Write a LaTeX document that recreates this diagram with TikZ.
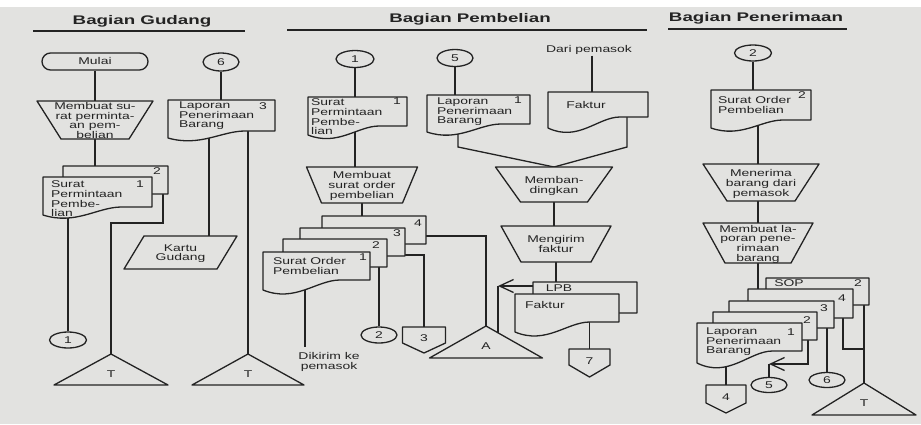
\documentclass[tikz,border=0pt]{standalone}
\usepackage{fontspec}
\setmainfont{Liberation Sans}
\usetikzlibrary{shapes.misc,shapes.geometric,arrows.meta,calc}

\definecolor{paper}{RGB}{226,226,224}
\definecolor{ink}{RGB}{35,35,35}

\pgfdeclarelayer{paper}
\pgfdeclarelayer{wires}
\pgfsetlayers{paper,wires,main}

% text helpers: body text is set wide
\newcommand\bodyfont{\fontsize{9.8}{9}\selectfont}
\newcommand\sx[1]{\scalebox{1.42}[1]{\begin{tabular}{@{}c@{}}#1\end{tabular}}}
\newcommand\sxl[1]{\scalebox{1.42}[1]{\begin{tabular}[t]{@{}l@{}}#1\end{tabular}}}
\newcommand\hx[1]{\scalebox{1.5}[1]{#1}}

\tikzset{
  geo/.style={inner sep=0pt, outer sep=0pt, draw=none},
  shp/.style={draw=ink, fill=paper, line width=1.3pt, line join=round},
  txt/.style={inner sep=0pt, text=ink, font=\bodyfont},
  num/.style={txt, yshift=-1.5pt},
  lbl/.style={txt, anchor=base west},
  hdr/.style={inner sep=0pt, text=ink, font=\fontsize{12.5}{14}\selectfont\bfseries,
              text height=9pt, text depth=0pt},
  wire/.style={draw=ink, line width=1.3pt},
  arr/.style={wire, -{Straight Barb[length=14pt,width=13pt]}},
  rule/.style={draw=ink, line width=1.5pt},
  ellip/.style={ellipse, draw=ink, fill=paper, line width=1.3pt, inner sep=0pt,
                text=ink, font=\bodyfont, text height=7pt, text depth=0pt},
  term/.style={rounded rectangle, draw=ink, fill=paper, line width=1.3pt, inner sep=0pt,
               text=ink, font=\bodyfont, text height=7pt, text depth=0pt},
}

% manual operation: name, cx, cy, top width, height, slant, text
\newcommand\fcManop[7]{%
  \node[geo, minimum width=#4pt, minimum height=#5pt] (#1) at (#2,#3) {};
  \draw[shp] (#1.north west) -- (#1.north east) -- ([xshift=-#6pt]#1.south east)
             -- ([xshift=#6pt]#1.south west) -- cycle;
  \node[num] (#1-t) at (#1.center) {\sx{#7}};}

% document: name, left x, top y, width, left height, rise of right side
\newcommand\fcDoc[6]{%
  \draw[shp] (#2,#3) -- ({#2+#4},#3) -- ({#2+#4},{#3+#5-#6})
     -- ({#2+0.72*#4},{#3+#5-#6})
     .. controls ({#2+0.5*#4},{#3+#5-#6}) and ({#2+0.3*#4},{#3+#5+1.3*#6})
     .. (#2,{#3+#5}) -- cycle;
  \node[geo, anchor=north west, minimum width=#4pt, minimum height=#5pt] (#1) at (#2,#3) {};}

% off-page connector: name, cx, top y, width, height, tip depth, text
\newcommand\fcOff[7]{%
  \node[geo, anchor=north, minimum width=#4pt, minimum height=#5pt] (#1) at (#2,#3) {};
  \draw[shp] (#1.north west) -- (#1.north east) -- ([yshift=#6pt]#1.south east)
             -- (#1.south) -- ([yshift=#6pt]#1.south west) -- cycle;
  \node[num] (#1-t) at ($(#1.north)!0.42!(#1.south)$) {\sx{#7}};}

% file (triangle): name, apex x, apex y, base width, height, text
\newcommand\fcTri[6]{%
  \node[geo, anchor=north, minimum width=#4pt, minimum height=#5pt] (#1) at (#2,#3) {};
  \draw[shp] (#1.north) -- (#1.south east) -- (#1.south west) -- cycle;
  \node[num] (#1-t) at ($(#1.north)!0.63!(#1.south)$) {\sx{#6}};}

% manual input record (parallelogram): name, cx, cy, width, height, slant, text
\newcommand\fcPara[7]{%
  \node[geo, minimum width=#4pt, minimum height=#5pt] (#1) at (#2,#3) {};
  \draw[shp] ([xshift=#6pt]#1.north west) -- (#1.north east) -- ([xshift=-#6pt]#1.south east)
             -- (#1.south west) -- cycle;
  \node[num] (#1-t) at (#1.center) {\sx{#7}};}

\begin{document}
\begin{tikzpicture}[x=1pt,y=-1pt]
\useasboundingbox (0,0) rectangle (921,424);
\begin{pgfonlayer}{paper}
  \fill[paper] (0,0) rectangle (921,424);
  \fill[white] (0,0) rectangle (921,7);
\end{pgfonlayer}

% ---------- column headers ----------
\node[hdr] (h1) at (142,20) {\hx{Bagian Gudang}};
\node[hdr] (h2) at (470,18) {\hx{Bagian Pembelian}};
\node[hdr] (h3) at (756,17) {\hx{Bagian Penerimaan}};
\draw[rule] (33,31) -- (245,31);
\draw[rule] (287,30) -- (647,30);
\draw[rule] (668,29) -- (847,29);

% ---------- Bagian Gudang ----------
\node[term, minimum width=106pt, minimum height=17pt] (mulai) at (95,61.5) {\sx{Mulai}};
\fcManop{gop}{95}{120}{116}{38}{24}{Membuat su-\\rat perminta-\\an pem-\\belian}
\fcDoc{gd2}{63}{166}{105}{36}{8}
\node[num] (gd2-n) at (157,171) {\sx{2}};
\fcDoc{gd1}{43}{177}{109}{38}{8}
\node[num] (gd1-n) at (140,184) {\sx{1}};
\node[lbl] (gd1-t) at (51,187.4) {\sxl{Surat\\Permintaan\\Pembe-\\lian}};
\node[ellip, minimum width=37pt, minimum height=16pt] (gc1) at (68,340) {\sx{1}};
\fcTri{gt1}{111}{354}{114}{31}{T}

\node[ellip, minimum width=36pt, minimum height=18pt] (gc6) at (221,62) {\sx{6}};
\fcDoc{gl3}{168}{100}{107}{38}{7}
\node[num] (gl3-n) at (263,106) {\sx{3}};
\node[lbl] (gl3-t) at (179,108.5) {\sxl{Laporan\\Penerimaan\\Barang}};
\fcPara{kartu}{180.5}{252.5}{113}{33}{20}{Kartu\\Gudang}
\fcTri{gt2}{248}{354}{112}{31}{T}

% ---------- Bagian Pembelian ----------
\node[ellip, minimum width=38pt, minimum height=17pt] (pc1) at (355,59) {\sx{1}};
\fcDoc{pd}{308}{97}{99}{38}{9}
\node[num] (pd-n) at (397,101) {\sx{1}};
\node[lbl] (pd-t) at (311,105.5) {\sxl{Surat\\Permintaan\\Pembe-\\lian}};
\fcManop{pop}{362}{185}{111}{36}{15}{Membuat\\surat order\\pembelian}

\fcDoc{pd4}{322}{216}{104}{36}{8}
\node[num] (pd4-n) at (418,223) {\sx{4}};
\fcDoc{pd3}{300}{228}{105}{36}{8}
\node[num] (pd3-n) at (397,233) {\sx{3}};
\fcDoc{pd2}{283}{239}{104}{36}{8}
\node[num] (pd2-n) at (376,245) {\sx{2}};
\fcDoc{pd1}{263}{252}{107}{38}{10}
\node[num] (pd1-n) at (363,257) {\sx{1}};
\node[lbl] (pd1-t) at (273,264.4) {\sxl{Surat Order\\Pembelian}};
\node[txt] (dk) at (329,362) {\sx{Dikirim ke\\pemasok}};
\node[ellip, minimum width=36pt, minimum height=16pt] (pc2) at (379,335) {\sx{2}};
\fcOff{po3}{424}{327}{43}{26}{10}{3}
\fcTri{pa}{486}{326}{113}{32}{A}

\node[ellip, minimum width=36pt, minimum height=17pt] (pc5) at (455,58) {\sx{5}};
\fcDoc{pl}{427}{95}{103}{37}{8}
\node[num] (pl-n) at (518,100) {\sx{1}};
\node[lbl] (pl-t) at (437,104.4) {\sxl{Laporan\\Penerimaan\\Barang}};
\node[txt] (dp) at (589,50.5) {\sx{Dari pemasok}};
\fcDoc{pf}{548}{92}{100}{36}{11}
\node[num] (pf-t) at (586,105) {\sx{Faktur}};
\fcManop{pb}{554}{184.5}{117}{35}{25}{Memban-\\dingkan}
\fcManop{pm}{556}{244}{110}{36}{20}{Mengirim\\faktur}
\fcDoc{plpb}{533}{282}{104}{38}{7}
\node[num] (plpb-t) at (559,287.5) {\sx{LPB}};
\fcDoc{pf2}{515}{294}{104}{38}{10}
\node[lbl] (pf2-t) at (525,308.4) {\sxl{Faktur}};
\fcOff{po7}{589.5}{349}{41}{28}{12}{7}

% ---------- Bagian Penerimaan ----------
\node[ellip, minimum width=37pt, minimum height=16pt] (rc2) at (753,53) {\sx{2}};
\fcDoc{rs}{711}{90}{100}{38}{8}
\node[num] (rs-n) at (802,95) {\sx{2}};
\node[lbl] (rs-t) at (718,103.4) {\sxl{Surat Order\\Pembelian}};
\fcManop{rm}{761}{182.5}{116}{37}{24}{Menerima\\barang dari\\pemasok}
\fcManop{rb}{758}{243}{110}{40}{22}{Membuat la-\\poran pene-\\rimaan\\barang}

\fcDoc{rsop}{766}{278}{103}{35}{8}
\node[num] (rsop-t) at (789,283) {\sx{SOP}};
\node[num] (rsop-n) at (858,283) {\sx{2}};
\fcDoc{r4}{748}{289}{105}{37}{8}
\node[num] (r4-n) at (842,298) {\sx{4}};
\fcDoc{r3}{729}{301}{105}{35}{8}
\node[num] (r3-n) at (824,308) {\sx{3}};
\fcDoc{r2}{713}{312}{104}{36}{8}
\node[num] (r2-n) at (807,320) {\sx{2}};
\fcDoc{r1}{697}{323}{105}{40}{12}
\node[num] (r1-n) at (791,332) {\sx{1}};
\node[lbl] (r1-t) at (706,334.4) {\sxl{Laporan\\Penerimaan\\Barang}};
\fcOff{ro4}{726}{385}{40}{28}{10}{4}
\node[ellip, minimum width=36pt, minimum height=15pt] (rc5) at (769,385) {\sx{5}};
\node[ellip, minimum width=36pt, minimum height=15pt] (rc6) at (827,380) {\sx{6}};
\fcTri{rt}{864}{383}{104}{32}{T}

% ---------- flow lines (under the symbols) ----------
\begin{pgfonlayer}{wires}
  % Gudang
  \draw[wire] (mulai.south) -- (gop.north);
  \draw[wire] (gop.south) -- (gop.south |- gd2.center);
  \draw[wire] (gc1.north) -- (gc1.north |- gd1.center);
  \coordinate (g2a) at (163,223);
  \draw[wire] (g2a |- gd2.center) -- (g2a) -| (gt1.north);
  \draw[wire] (gc6.south) -- (gc6.south |- gl3.center);
  \coordinate (g3a) at (209,0);
  \draw[wire] (g3a |- gl3.center) -- (g3a |- kartu.center);
  \draw[wire] (gt2.north |- gl3.center) -- (gt2.north);

  % Pembelian
  \draw[wire] (pc1.south) -- (pc1.south |- pd.center);
  \coordinate (p1a) at (355,0);
  \draw[wire] (p1a |- pd.center) -- (p1a |- pop.center);
  \draw[wire] (pop.south) -- (pop.south |- pd4.center);
  \coordinate (p2a) at (305,0);
  \coordinate (dkt) at ([yshift=5pt]dk.north);
  \draw[wire] (p2a |- pd1.center) -- (p2a |- dkt);
  \draw[wire] (pc2.north) -- (pc2.north |- pd2.center);
  \coordinate (p3a) at (424,255);
  \draw[wire] (pd3.east |- p3a) -- (p3a) -- (po3.north);
  \coordinate (p4a) at (486,236);
  \draw[wire] (pd4.east |- p4a) -- (p4a) -- (pa.north);
  \draw[wire] (pc5.south) -- (pc5.south |- pl.center);
  \coordinate (m1) at (458,147);
  \coordinate (m2) at (627,147);
  \draw[wire] (m1 |- pl.center) -- (m1) -- (pb.north);
  \draw[wire] (m2 |- pf.center) -- (m2) -- (pb.north);
  \coordinate (dpl) at (592,0);
  \draw[wire] (dpl |- dp.south) -- (dpl |- pf.center);
  \draw[wire] (pb.south) -- (pb.south |- pm.north);
  \draw[wire] (pm.south) -- (pm.south |- plpb.center);
  \coordinate (a2) at (498,286);
  \draw[arr] (plpb.west |- a2) -- (a2);
  \draw[wire] (a2) -- (a2 |- pa.center);
  \draw[wire] (po7.north) -- (po7.north |- pf2.center);

  % Penerimaan
  \draw[wire] (rc2.south) -- (rc2.south |- rs.center);
  \coordinate (r0) at (758,0);
  \draw[wire] (r0 |- rs.center) -- (r0 |- rm.center);
  \draw[wire] (r0 |- rm.center) -- (r0 |- rb.center);
  \draw[wire] (r0 |- rb.center) -- (r0 |- r4.center);
  \draw[wire] (ro4.north) -- (ro4.north |- r1.center);
  \coordinate (b5) at (808,364);
  \coordinate (a5) at (769,364);
  \draw[arr] (b5 |- r2.center) -- (b5) -- (a5);
  \draw[wire] (a5) -- (rc5.north);
  \draw[wire] (rc6.north) -- (rc6.north |- r3.center);
  \coordinate (b4) at (843,349);
  \draw[wire] (b4 |- r4.center) -- (b4) -- (b4 -| rt.north);
  \draw[wire] (rt.north) -- (rt.north |- rsop.center);
\end{pgfonlayer}
\end{tikzpicture}
\end{document}
